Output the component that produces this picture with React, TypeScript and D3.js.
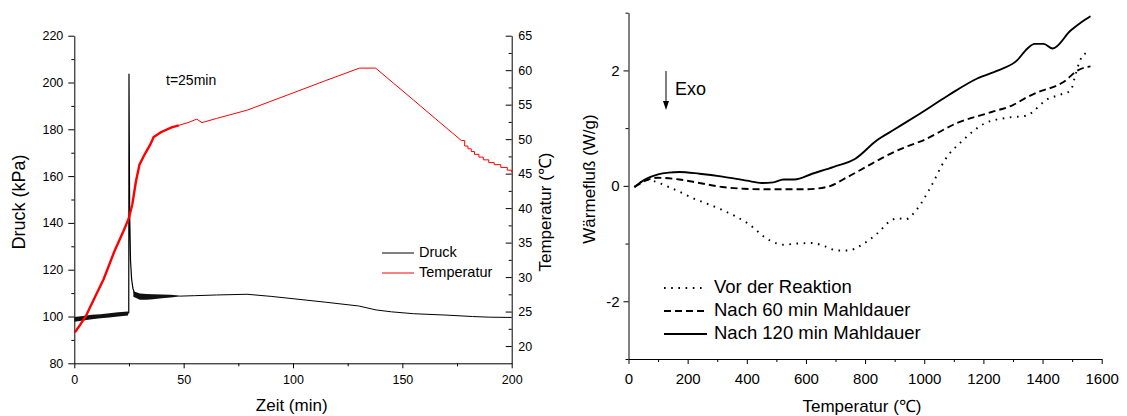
import { useEffect, useRef } from 'react';
import * as d3 from 'd3';

const FONT = '"Liberation Sans", Arial, Helvetica, sans-serif';

// ---- left panel: Druck (kPa) and Temperatur (°C) over Zeit (min) ----
const zeitTicks = [0, 50, 100, 150, 200];
const zeitMinor = [25, 75, 125, 175];
const druckTicks = [80, 100, 120, 140, 160, 180, 200, 220];
const druckMinor = [90, 110, 130, 150, 170, 190, 210];
const tempTicks = [20, 25, 30, 35, 40, 45, 50, 55, 60, 65];
const tempMinor = [22.5, 27.5, 32.5, 37.5, 42.5, 47.5, 52.5, 57.5, 62.5];

// noisy pressure before the spike (min / max of the band)
const druckPreTime = [0, 4, 8, 12, 16, 20, 24.6];
const druckPreLow = [97.8, 98.3, 98.8, 99.2, 99.6, 100.0, 100.4];
const druckPreHigh = [99.8, 100.2, 100.7, 101.0, 101.4, 101.8, 102.1];

// the spike at t=25min
const druckSpikeTime = [24.6, 24.9, 25.0, 25.3, 25.7, 26.2, 26.8, 27.5];
const druckSpikeValue = [101.3, 101.6, 203.7, 145, 124, 116, 112, 110.0];

// noisy pressure after the spike
const druckPostTime = [27, 30, 33, 36, 40, 44, 48];
const druckPostLow = [108.4, 107.2, 107.2, 107.4, 107.8, 108.1, 108.5];
const druckPostHigh = [110.8, 109.8, 109.6, 109.5, 109.4, 109.3, 109.0];

// smooth pressure afterwards
const druckTime = [48, 55, 65, 79, 90, 100, 115, 130, 138, 145, 155, 170, 182, 190, 200];
const druckValue = [108.7, 108.9, 109.2, 109.5, 108.6, 107.6, 106.1, 104.5, 102.8, 102.0, 101.2, 100.6, 100.0, 99.7, 99.6];

// temperature: dense stair steps in the first part (drawn heavy)
const tempEarlyTime = [0.3, 2.5, 5.2, 9.3, 13.4, 18.3, 22.4, 24.9, 26.5, 28.2, 29.8, 32.2, 34.7, 36.3, 39.6, 44.5, 47.8];
const tempEarlyValue = [22.0, 23.0, 24.3, 27.0, 29.7, 33.7, 36.6, 38.5, 40.5, 43.9, 46.3, 47.8, 49.2, 50.3, 51.0, 51.7, 52.0];
const tempLateTime = [47.8, 52, 56, 58.4, 65, 79, 100, 115, 130.4, 137.8, 146, 155, 165, 177];
const tempLateValue = [52.0, 52.4, 52.9, 52.4, 53.0, 54.2, 56.7, 58.5, 60.3, 60.3, 58.1, 55.7, 53.0, 49.8];
const tempTailTime = [177, 178.5, 180, 181.5, 183, 185, 187, 189.5, 192, 195, 198, 200];
const tempTailValue = [49.8, 49.0, 48.6, 48.2, 47.8, 47.4, 47.0, 46.6, 46.3, 45.9, 45.5, 45.2];

// ---- right panel: DSC, Wärmefluß (W/g) over Temperatur (°C) ----
const dscTicks = [0, 200, 400, 600, 800, 1000, 1200, 1400, 1600];
const dscMinor = [100, 300, 500, 700, 900, 1100, 1300, 1500];
const flowTicks = [-2, 0, 2];
const flowMinor = [-3, -1, 1, 3];

const vorTemp = [20, 63, 136, 221, 318, 403, 476, 524, 570, 621, 665, 706, 745, 779, 810, 840, 888, 910, 937, 973, 1022, 1070, 1131, 1204, 1280, 1349, 1373, 1410, 1460, 1495, 1510, 1525, 1543, 1562];
const vorFlow = [-0.02, 0.1, -0.02, -0.22, -0.42, -0.65, -0.94, -1.02, -1.0, -0.99, -1.05, -1.12, -1.12, -1.05, -0.95, -0.83, -0.6, -0.56, -0.58, -0.42, -0.02, 0.45, 0.79, 1.08, 1.18, 1.22, 1.31, 1.48, 1.58, 1.65, 1.9, 2.15, 2.29, 2.26];

const m60Temp = [20, 63, 99, 172, 240, 318, 390, 451, 520, 597, 670, 743, 800, 864, 930, 997, 1107, 1228, 1300, 1349, 1398, 1440, 1471, 1519, 1562];
const m60Flow = [-0.02, 0.1, 0.14, 0.11, 0.05, -0.02, -0.05, -0.06, -0.06, -0.06, -0.02, 0.16, 0.32, 0.5, 0.66, 0.79, 1.08, 1.28, 1.4, 1.54, 1.65, 1.72, 1.8, 2.0, 2.07];

const m120Temp = [20, 60, 100, 136, 172, 240, 318, 400, 451, 490, 524, 561, 621, 694, 767, 840, 900, 985, 1082, 1179, 1250, 1313, 1349, 1373, 1404, 1434, 1495, 1530, 1562];
const m120Flow = [-0.02, 0.12, 0.2, 0.23, 0.24, 0.21, 0.16, 0.09, 0.05, 0.06, 0.11, 0.11, 0.21, 0.33, 0.47, 0.79, 0.98, 1.25, 1.57, 1.86, 2.0, 2.17, 2.38, 2.46, 2.46, 2.38, 2.69, 2.83, 2.94];

const dscSeries = [
  { name: 'Vor der Reaktion', temp: vorTemp, flow: vorFlow, dash: '1.6,5.6' },
  { name: 'Nach 60 min Mahldauer', temp: m60Temp, flow: m60Flow, dash: '7,4' },
  { name: 'Nach 120 min Mahldauer', temp: m120Temp, flow: m120Flow, dash: null },
];

export default function App() {
  const svgRef = useRef<SVGSVGElement | null>(null);

  useEffect(() => {
    if (!svgRef.current) return;
    const svg = d3.select(svgRef.current);
    svg.selectAll('*').remove();

    const styleAxis = (g: any, size: number) => {
      g.select('.domain').attr('stroke', '#000').attr('stroke-width', 1);
      g.selectAll('.tick line').attr('stroke', '#000').attr('stroke-width', 1);
      g.selectAll('text').attr('font-family', FONT).attr('font-size', size).attr('fill', '#000');
      g.attr('font-family', null).attr('font-size', null);
    };

    const zip = (a: number[], b: number[]) => a.map((v, i) => [v, b[i]] as [number, number]);

    // ================= left panel =================
    const xZ = d3.scaleLinear().domain([0, 200]).range([74.3, 511.7]);
    const yP = d3.scaleLinear().domain([80, 220]).range([363.3, 35.7]);
    const yT = d3.scaleLinear().domain([17.5, 65]).range([363.3, 35.7]);
    const L = svg.append('g');

    // axes
    const gx = L.append('g').attr('transform', `translate(0,${yP(80)})`)
      .call(d3.axisBottom(xZ).tickValues(zeitTicks).tickSize(5).tickSizeOuter(0).tickPadding(6.5).tickFormat((d: any) => String(d)));
    styleAxis(gx, 12.5);
    const gxm = L.append('g').attr('transform', `translate(0,${yP(80)})`)
      .call(d3.axisBottom(xZ).tickValues(zeitMinor).tickSize(3).tickFormat(() => ''));
    gxm.select('.domain').remove();
    styleAxis(gxm, 12.5);

    const gy = L.append('g').attr('transform', `translate(${xZ(0)},0)`)
      .call(d3.axisLeft(yP).tickValues(druckTicks).tickSize(6).tickSizeOuter(0).tickPadding(5).tickFormat((d: any) => String(d)));
    styleAxis(gy, 12.5);
    const gym = L.append('g').attr('transform', `translate(${xZ(0)},0)`)
      .call(d3.axisLeft(yP).tickValues(druckMinor).tickSize(3).tickFormat(() => ''));
    gym.select('.domain').remove();
    styleAxis(gym, 12.5);

    const gr = L.append('g').attr('transform', `translate(${xZ(200)},0)`)
      .call(d3.axisRight(yT).tickValues(tempTicks).tickSizeInner(-6).tickSizeOuter(0).tickPadding(6.5).tickFormat((d: any) => String(d)));
    styleAxis(gr, 12.5);
    const grm = L.append('g').attr('transform', `translate(${xZ(200)},0)`)
      .call(d3.axisRight(yT).tickValues(tempMinor).tickSizeInner(-3).tickFormat(() => ''));
    grm.select('.domain').remove();
    styleAxis(grm, 12.5);

    // Druck: noisy parts as a filled band, the rest as a line
    const drawBand = (t: number[], lo: number[], hi: number[]) => {
      const a = d3.area<number>()
        .x((d) => xZ(d))
        .y0((_, i) => yP(lo[i]))
        .y1((_, i) => yP(hi[i]));
      L.append('path').attr('d', a(t) as string).attr('fill', '#111');
    };
    drawBand(druckPreTime, druckPreLow, druckPreHigh);
    drawBand(druckPostTime, druckPostLow, druckPostHigh);

    const lineP = d3.line<[number, number]>().x((d) => xZ(d[0])).y((d) => yP(d[1]));
    L.append('path').attr('d', lineP(zip(druckSpikeTime, druckSpikeValue)) as string)
      .attr('fill', 'none').attr('stroke', '#000').attr('stroke-width', 1.2);
    L.append('path').attr('d', lineP(zip(druckTime, druckValue)) as string)
      .attr('fill', 'none').attr('stroke', '#000').attr('stroke-width', 1);

    // Temperatur
    const lineT = d3.line<[number, number]>().x((d) => xZ(d[0])).y((d) => yT(d[1]));
    L.append('path').attr('d', lineT(zip(tempEarlyTime, tempEarlyValue)) as string)
      .attr('fill', 'none').attr('stroke', '#ff0000').attr('stroke-width', 2.4);
    L.append('path').attr('d', lineT(zip(tempLateTime, tempLateValue)) as string)
      .attr('fill', 'none').attr('stroke', '#ff0000').attr('stroke-width', 1);
    L.append('path').attr('d', lineT.curve(d3.curveStepAfter)(zip(tempTailTime, tempTailValue)) as string)
      .attr('fill', 'none').attr('stroke', '#ff0000').attr('stroke-width', 1);

    // annotation + legend
    L.append('text').attr('x', 166).attr('y', 81).attr('dominant-baseline', 'middle')
      .attr('font-family', FONT).attr('font-size', 14).text('t=25min');
    const legL = [
      { name: 'Druck', color: '#000' },
      { name: 'Temperatur', color: '#ff0000' },
    ];
    legL.forEach((d, i) => {
      const y = 253 + i * 20;
      L.append('line').attr('x1', 382).attr('x2', 414).attr('y1', y).attr('y2', y)
        .attr('stroke', d.color).attr('stroke-width', 1);
      L.append('text').attr('x', 419).attr('y', y).attr('dominant-baseline', 'middle')
        .attr('font-family', FONT).attr('font-size', 14.5).text(d.name);
    });

    // axis titles
    L.append('text').attr('x', 291.7).attr('y', 407).attr('text-anchor', 'middle').attr('dominant-baseline', 'middle')
      .attr('font-family', FONT).attr('font-size', 17).text('Zeit (min)');
    L.append('text').attr('transform', 'translate(20.5,202) rotate(-90)').attr('text-anchor', 'middle')
      .attr('dominant-baseline', 'middle').attr('font-family', FONT).attr('font-size', 18).text('Druck (kPa)');
    L.append('text').attr('transform', 'translate(547,212) rotate(-90)').attr('text-anchor', 'middle')
      .attr('dominant-baseline', 'middle').attr('font-family', FONT).attr('font-size', 17).text('Temperatur (\u2103)');

    // ================= right panel =================
    const xD = d3.scaleLinear().domain([0, 1600]).range([628.5, 1101.7]);
    const yF = d3.scaleLinear().domain([-3, 3]).range([359, 12.7]);
    const R = svg.append('g');

    const rx = R.append('g').attr('transform', `translate(0,${yF(-3)})`)
      .call(d3.axisBottom(xD).tickValues(dscTicks).tickSize(5).tickSizeOuter(0).tickPadding(9).tickFormat((d: any) => String(d)));
    styleAxis(rx, 15);
    const rxm = R.append('g').attr('transform', `translate(0,${yF(-3)})`)
      .call(d3.axisBottom(xD).tickValues(dscMinor).tickSize(3).tickFormat(() => ''));
    rxm.select('.domain').remove();
    styleAxis(rxm, 15);

    const ry = R.append('g').attr('transform', `translate(${xD(0)},0)`)
      .call(d3.axisLeft(yF).tickValues(flowTicks).tickSize(5).tickSizeOuter(0).tickPadding(4).tickFormat((d: any) => String(d)));
    styleAxis(ry, 15);
    const rym = R.append('g').attr('transform', `translate(${xD(0)},0)`)
      .call(d3.axisLeft(yF).tickValues(flowMinor).tickSize(3).tickFormat(() => ''));
    rym.select('.domain').remove();
    styleAxis(rym, 15);

    const lineD = d3.line<[number, number]>().x((d) => xD(d[0])).y((d) => yF(d[1])).curve(d3.curveMonotoneX);
    dscSeries.forEach((s) => {
      const p = R.append('path').attr('d', lineD(zip(s.temp, s.flow)) as string)
        .attr('fill', 'none').attr('stroke', '#000').attr('stroke-width', 1.9);
      if (s.dash) p.attr('stroke-dasharray', s.dash);
    });

    // legend
    dscSeries.forEach((s, i) => {
      const y = 288 + i * 23;
      const ln = R.append('line').attr('x1', 664).attr('x2', 707).attr('y1', y).attr('y2', y)
        .attr('stroke', '#000').attr('stroke-width', 1.9);
      if (s.dash) ln.attr('stroke-dasharray', s.dash);
      R.append('text').attr('x', 714).attr('y', y).attr('dominant-baseline', 'middle')
        .attr('font-family', FONT).attr('font-size', 18.5).text(s.name);
    });

    // Exo arrow
    R.append('line').attr('x1', 666).attr('x2', 666).attr('y1', 71).attr('y2', 102)
      .attr('stroke', '#000').attr('stroke-width', 1);
    R.append('path').attr('d', 'M663,101 L669,101 L666,110 Z').attr('fill', '#000');
    R.append('text').attr('x', 675).attr('y', 90).attr('dominant-baseline', 'middle')
      .attr('font-family', FONT).attr('font-size', 18).text('Exo');

    R.append('text').attr('x', 862).attr('y', 408).attr('text-anchor', 'middle').attr('dominant-baseline', 'middle')
      .attr('font-family', FONT).attr('font-size', 17).text('Temperatur (\u2103)');
    R.append('text').attr('transform', 'translate(591,179) rotate(-90)').attr('text-anchor', 'middle')
      .attr('dominant-baseline', 'middle').attr('font-family', FONT).attr('font-size', 17).text('Wärmefluß (W/g)');
  }, []);

  return (
    <svg
      ref={svgRef}
      width={1127}
      height={416}
      style={{ position: 'absolute', left: 0, top: 0, background: '#fff' }}
    />
  );
}
